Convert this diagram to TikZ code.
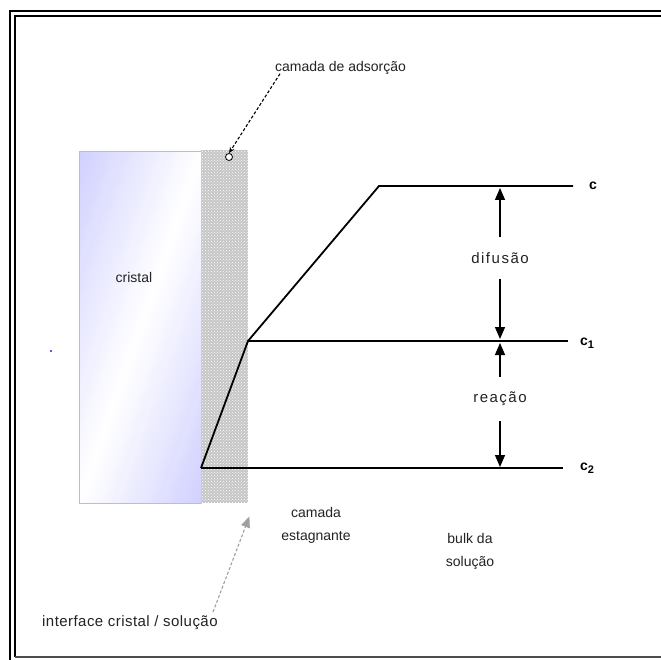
\documentclass[tikz,border=0pt]{standalone}
\usepackage{fontspec}
\setmainfont{Liberation Sans}
\newfontfamily\widefont[LetterSpace=10]{Liberation Sans}
\newfontfamily\semiwide[LetterSpace=3]{Liberation Sans}
\usetikzlibrary{arrows.meta,patterns}
\definecolor{cblue}{RGB}{208,208,255}
\definecolor{txt}{RGB}{35,35,35}
\begin{document}
\begin{tikzpicture}[x=1pt,y=-1pt,
  lbl/.style={font=\fontsize{14}{23}\selectfont, text=txt, inner sep=1pt},
  clbl/.style={font=\fontsize{14}{16}\selectfont\bfseries, text=black, inner sep=1pt},
  prof/.style={line width=1.8pt},
  dimarrow/.style={line width=1.3pt, -{Triangle[width=10pt,length=12pt]}},
  gaplbl/.style={lbl, font=\widefont\fontsize{15}{18}\selectfont, inner ysep=15pt}]
\useasboundingbox (0,0) rectangle (661,660);
\fill[white] (0,0) rectangle (661,660);
% frame
\draw[line width=2.5pt] (10,660) -- (10,11) -- (661,11);
\draw[line width=1.8pt] (15,657) -- (15,16) -- (661,16);
\draw[line width=1.5pt, black!70] (15,657) -- (661,657);
% crystal
\node[anchor=north west, minimum width=122pt, minimum height=351pt, inner sep=0pt] (cryst) at (79,152) {};
\begin{scope}
  \clip (cryst.north west) rectangle (cryst.south east);
  \begin{scope}[shift={(cryst.center)}, rotate=160.8]
    \foreach \i in {-28,...,27} {
      \pgfmathsetmacro\pa{\i*4.2}
      \pgfmathsetmacro\pb{(\i+1)*4.2+0.8}
      \pgfmathtruncatemacro\mix{min(100,abs(\i+0.5)*4.2/115.3*100)}
      \fill[cblue!\mix!white] (\pa,-260) rectangle (\pb,260);
    }
  \end{scope}
\end{scope}
\draw[gray!50, line width=1pt] (cryst.north west) rectangle (cryst.south east);
\node[lbl] (cristal) at (134,277) {cristal};
% stagnant layer
\node[anchor=north west, minimum width=47pt, minimum height=353pt, inner sep=0pt,
      fill=gray!45] (layer) at (201,150) {};
\fill[pattern=crosshatch dots, pattern color=white] (layer.north west) rectangle (layer.south east);
% adsorption
\node[circle, draw, fill=white, inner sep=0pt, minimum size=7pt, line width=0.8pt] (ads) at (229,157) {};
\node[lbl, anchor=west] (adsl) at (274,68) {camada de adsorção};
\draw[densely dashed, line width=1.1pt, -{Stealth[length=6pt,width=5pt]}]
  ([xshift=6pt,yshift=2pt]adsl.south west) -- (ads.north);
% profile
\coordinate (p0) at (201,468);
\coordinate (p1) at (248,341);
\coordinate (p2) at (379,186);
\coordinate (e0) at (563,468);
\coordinate (e1) at (568,341);
\coordinate (e2) at (573,186);
\draw[prof] (p0) -- (p1) -- (p2) -- (e2);
\draw[prof] (p1) -- (e1);
\draw[prof] (p0) -- (e0);
\node[clbl] (c0) at (593,186) {c};
\node[clbl] (c1) at (587,343) {c\raisebox{-0.45ex}{\fontsize{11}{12}\selectfont 1}};
\node[clbl] (c2) at (587,468) {c\raisebox{-0.45ex}{\fontsize{11}{12}\selectfont 2}};
% dimension arrows
\coordinate (a0) at (500,188);
\coordinate (a1u) at (500,339);
\coordinate (a1d) at (500,343);
\coordinate (a2) at (500,467);
\node[gaplbl] (dif) at (500,258) {difusão};
\node[gaplbl] (rea) at (500,399) {reação};
\draw[dimarrow] (dif.north) -- (a0);
\draw[dimarrow] (dif.south) -- (a1u);
\draw[dimarrow] (rea.north) -- (a1d);
\draw[dimarrow] (rea.south) -- (a2);
% bottom labels
\node[lbl, align=center] (stag) at (316,525) {camada\\estagnante};
\node[lbl, align=center] (bulk) at (470,551) {bulk da\\solução};
\node[lbl, anchor=west, font=\semiwide\fontsize{15}{18}\selectfont] (intf) at (41,623) {interface cristal / solução};
\coordinate (itail) at (213,612);
\draw[gray!75, densely dashed, line width=1.1pt, -{Triangle[width=9pt,length=11pt]}]
  (itail) -- ([xshift=1pt,yshift=-13pt]layer.south east);
% stray dot
\node[fill=blue!65, inner sep=0pt, minimum size=2.5pt] (dot) at (51,351) {};
\end{tikzpicture}
\end{document}
